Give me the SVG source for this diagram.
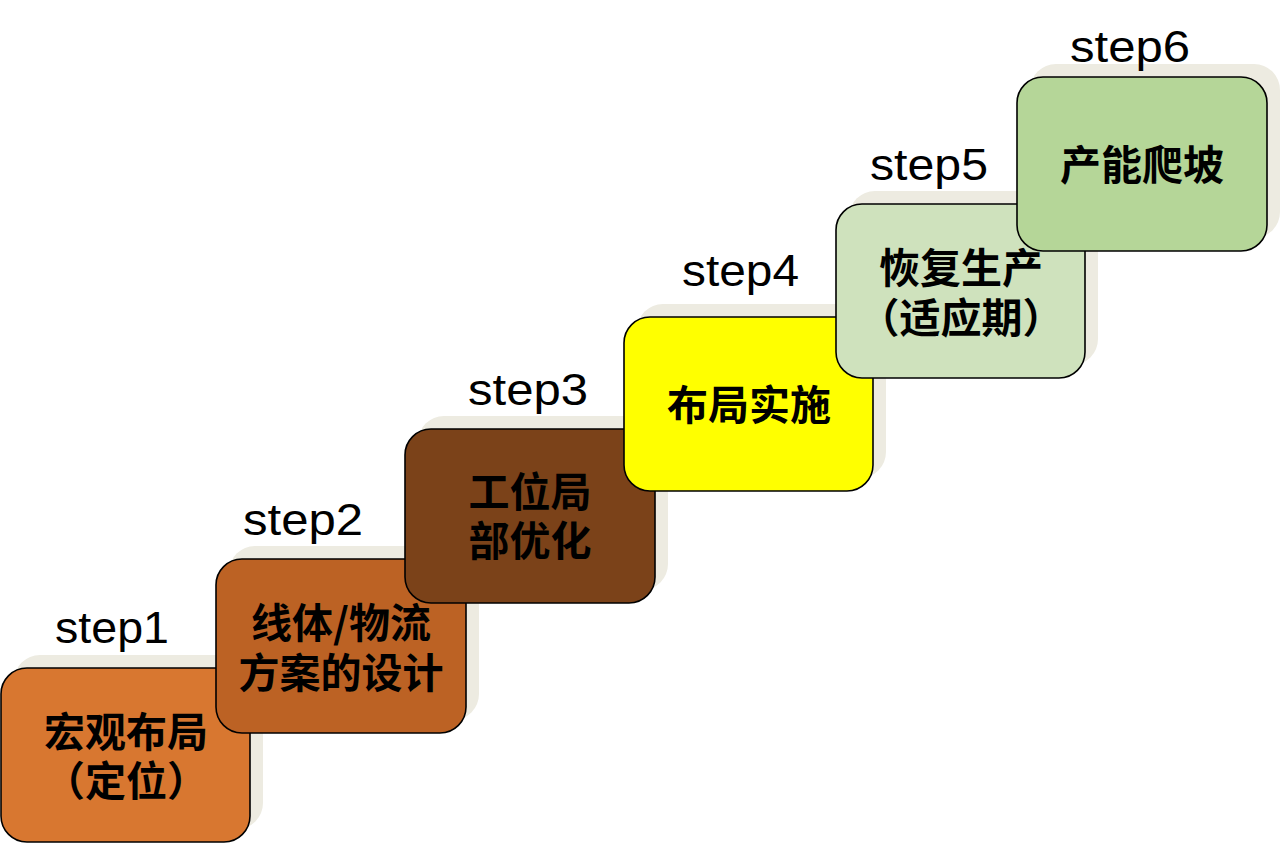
<svg xmlns="http://www.w3.org/2000/svg" width="1281" height="844" viewBox="0 0 1281 844">
<style>
.sh{fill:#EDEBE1;stroke:none}
.bx{stroke:#000;stroke-width:1.6}
.lbl{font-family:"Liberation Sans",Arial,sans-serif;font-size:44px;fill:#000}
.t{font-family:"Noto Sans CJK SC","Noto Sans CJK TC",sans-serif;font-size:41px;font-weight:bold;fill:#000;text-anchor:middle}
</style>
<rect width="1281" height="844" fill="#fff"/>
<g id="step1">
<rect class="sh" x="14" y="655" width="249" height="174" rx="26"/>
<rect class="bx" x="1" y="668" width="249" height="174" rx="26" fill="#D87730"/>
<text class="lbl" x="55" y="643" textLength="114" lengthAdjust="spacingAndGlyphs">step1</text>
<text class="t" x="126" y="747">宏观布局<tspan x="126" dy="49">（定位）</tspan></text>
</g>
<g id="step2">
<rect class="sh" x="229" y="546" width="250" height="174" rx="26"/>
<rect class="bx" x="216" y="559" width="250" height="174" rx="26" fill="#BC6224"/>
<text class="lbl" x="243" y="535" textLength="120" lengthAdjust="spacingAndGlyphs">step2</text>
<text class="t" x="341" y="638">线体/物流<tspan x="341" dy="50">方案的设计</tspan></text>
</g>
<g id="step3">
<rect class="sh" x="418" y="416" width="250" height="174" rx="26"/>
<rect class="bx" x="405" y="429" width="250" height="174" rx="26" fill="#7B4219"/>
<text class="lbl" x="468" y="405" textLength="120" lengthAdjust="spacingAndGlyphs">step3</text>
<text class="t" x="530" y="507">工位局<tspan x="530" dy="49">部优化</tspan></text>
</g>
<g id="step4">
<rect class="sh" x="637" y="304" width="249" height="174" rx="26"/>
<rect class="bx" x="624" y="317" width="249" height="174" rx="26" fill="#FFFF00"/>
<text class="lbl" x="682" y="286" textLength="117" lengthAdjust="spacingAndGlyphs">step4</text>
<text class="t" x="749" y="420">布局实施</text>
</g>
<g id="step5">
<rect class="sh" x="849" y="191" width="249" height="174" rx="26"/>
<rect class="bx" x="836" y="204" width="249" height="174" rx="26" fill="#CFE2BD"/>
<text class="lbl" x="870" y="180" textLength="118" lengthAdjust="spacingAndGlyphs">step5</text>
<text class="t" x="961" y="283">恢复生产<tspan x="961" dy="50">（适应期）</tspan></text>
</g>
<g id="step6">
<rect class="sh" x="1030" y="64" width="250" height="174" rx="26"/>
<rect class="bx" x="1017" y="77" width="250" height="174" rx="26" fill="#B5D698"/>
<text class="lbl" x="1070" y="62" textLength="120" lengthAdjust="spacingAndGlyphs">step6</text>
<text class="t" x="1142" y="180">产能爬坡</text>
</g>
<g id="connectors"></g>
</svg>
